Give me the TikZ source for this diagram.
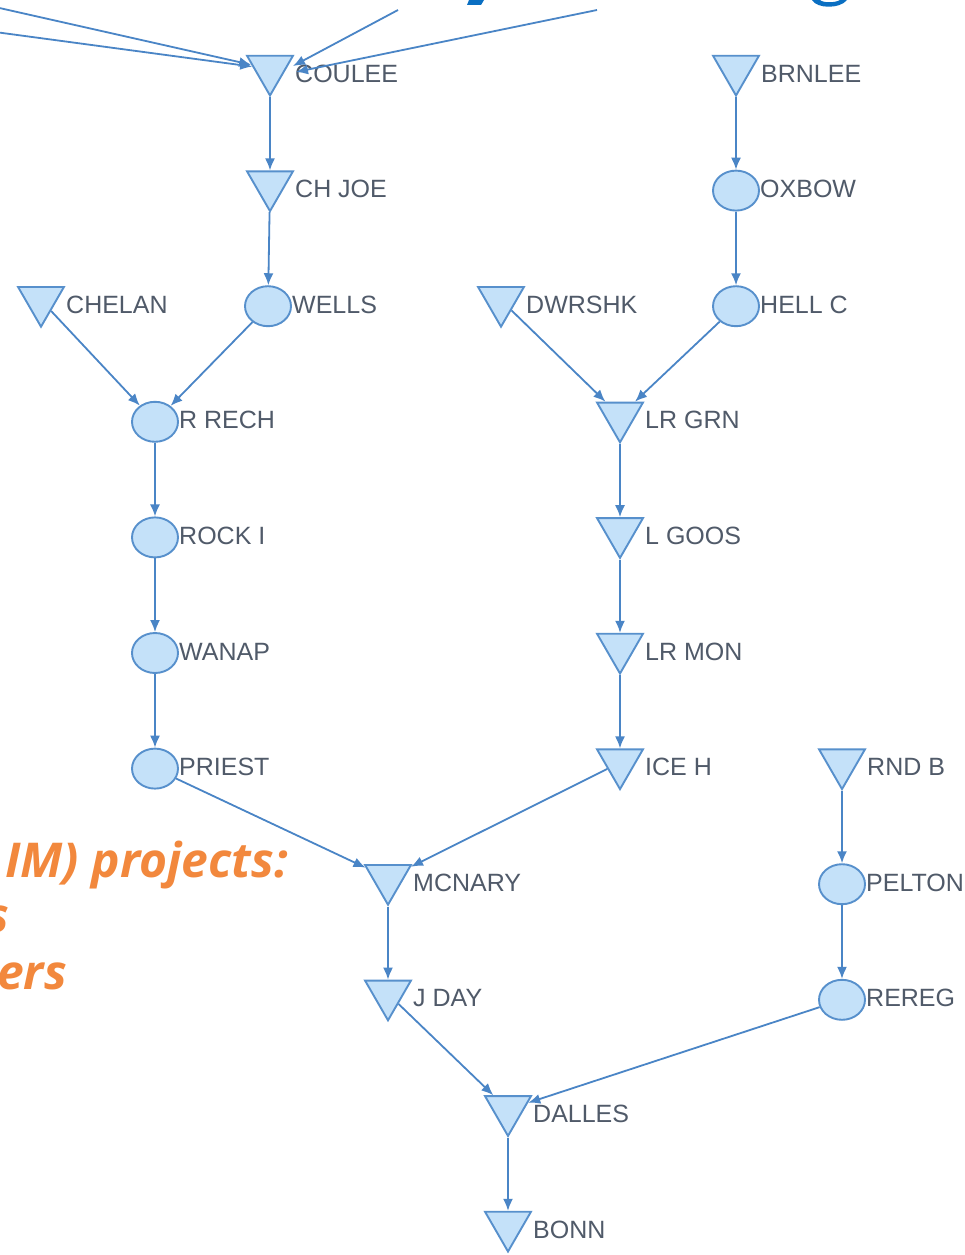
\documentclass[tikz,border=0pt]{standalone}
\usepackage{fontspec}
\setmainfont{Liberation Sans}
\newfontfamily\orangefont{Open Sans}
\usetikzlibrary{shapes.geometric,arrows.meta}
\definecolor{nodefill}{HTML}{C4E1F9}
\definecolor{nodedraw}{HTML}{5790CC}
\definecolor{edgecol}{HTML}{4A85C6}
\definecolor{labcol}{HTML}{505A69}
\definecolor{orangetxt}{HTML}{F2883D}
\definecolor{titleblue}{HTML}{0A6FC2}
\newcommand\damnode[4]{\node[dam] (#1) at (#2,#3-6) {}; \node[lab] (#1-t) at (#2+25,#3+7) {#4};}
\newcommand\pondnode[4]{\node[pond] (#1) at (#2,#3) {}; \node[lab] (#1-t) at (#2+24,#3+7) {#4};}
\begin{document}
\begin{tikzpicture}[x=1pt,y=-1pt,
  dam/.style={regular polygon, regular polygon sides=3, shape border rotate=180,
    minimum size=53pt, inner sep=0pt, draw=nodedraw, fill=nodefill, line width=1.9pt},
  pond/.style={ellipse, minimum width=46pt, minimum height=40pt, inner sep=0pt,
    draw=nodedraw, fill=nodefill, line width=1.9pt},
  lab/.style={anchor=base west, inner sep=0pt, text=labcol, font=\fontsize{25}{30}\selectfont},
  flow/.style={draw=edgecol, line width=1.8pt, -{Latex[length=12pt,width=10pt]}},
  orange/.style={anchor=base east, inner sep=0pt, text=orangetxt,
    font=\orangefont\bfseries\itshape\fontsize{48}{58}\selectfont}]
\useasboundingbox (0,0) rectangle (965,1255);
\clip (0,0) rectangle (965,1255);
\fill[white] (0,0) rectangle (965,1255);

% orange text fragments
\node[orange] (o1) at (288,877) {IM) projects:};
\node[orange] (o2) at (9,932) {s};
\node[orange] (o3) at (67,989) {ers};

% title fragments
\fill[titleblue] (469,0) -- (484,0) -- (481,5) -- (467,5) -- cycle;
\fill[titleblue] (812,0) .. controls (817,9) and (840,9) .. (847,0) -- (840,0) .. controls (835,3) and (823,3) .. (820,0) -- cycle;

% nodes
\damnode{coulee}{270}{75}{COULEE}
\damnode{chjoe}{270}{190.6}{CH JOE}
\pondnode{wells}{268}{306.2}{WELLS}
\damnode{chelan}{41}{306.2}{CHELAN}
\pondnode{rrech}{155}{421.8}{R RECH}
\pondnode{rocki}{155}{537.4}{ROCK I}
\pondnode{wanap}{155}{653}{WANAP}
\pondnode{priest}{155}{768.6}{PRIEST}
\damnode{mcnary}{388}{884.2}{MCNARY}
\damnode{jday}{388}{999.8}{J DAY}
\damnode{dalles}{508}{1115.4}{DALLES}
\damnode{bonn}{508}{1231}{BONN}
\damnode{dwrshk}{501}{306.2}{DWRSHK}
\damnode{lrgrn}{620}{421.8}{LR GRN}
\damnode{lgoos}{620}{537.4}{L GOOS}
\damnode{lrmon}{620}{653}{LR MON}
\damnode{iceh}{620}{768.6}{ICE H}
\damnode{brnlee}{736}{75}{BRNLEE}
\pondnode{oxbow}{736}{190.6}{OXBOW}
\pondnode{hellc}{736}{306.2}{HELL C}
\damnode{rndb}{842}{768.6}{RND B}
\pondnode{pelton}{842}{884.2}{PELTON}
\pondnode{rereg}{842}{999.8}{REREG}

% incoming from outside
\coordinate (in1) at (-5,7);
\coordinate (in2) at (-5,32);
\coordinate (in3) at (398,10);
\coordinate (in4) at (597,10);
\coordinate (c3) at (293,66);
\coordinate (c4) at (296,72);
\draw[flow] (in1) -- (coulee);
\draw[flow] (in2) -- (coulee);
\draw[flow] (in3) -- (c3);
\draw[flow] (in4) -- (c4);

% edges
\draw[flow] (coulee) -- (chjoe);
\draw[flow] (chjoe) -- (wells);
\draw[flow] (wells) -- (rrech);
\draw[flow] (chelan) -- (rrech);
\draw[flow] (rrech) -- (rocki);
\draw[flow] (rocki) -- (wanap);
\draw[flow] (wanap) -- (priest);
\draw[flow] (priest) -- (mcnary);
\draw[flow] (mcnary) -- (jday);
\draw[flow] (jday) -- (dalles);
\draw[flow] (dalles) -- (bonn);
\draw[flow] (brnlee) -- (oxbow);
\draw[flow] (oxbow) -- (hellc);
\draw[flow] (hellc) -- (lrgrn);
\draw[flow] (dwrshk) -- (lrgrn);
\draw[flow] (lrgrn) -- (lgoos);
\draw[flow] (lgoos) -- (lrmon);
\draw[flow] (lrmon) -- (iceh);
\draw[flow] (iceh) -- (mcnary);
\draw[flow] (rndb) -- (pelton);
\draw[flow] (pelton) -- (rereg);
\draw[flow] (rereg) -- (dalles);
\end{tikzpicture}
\end{document}
